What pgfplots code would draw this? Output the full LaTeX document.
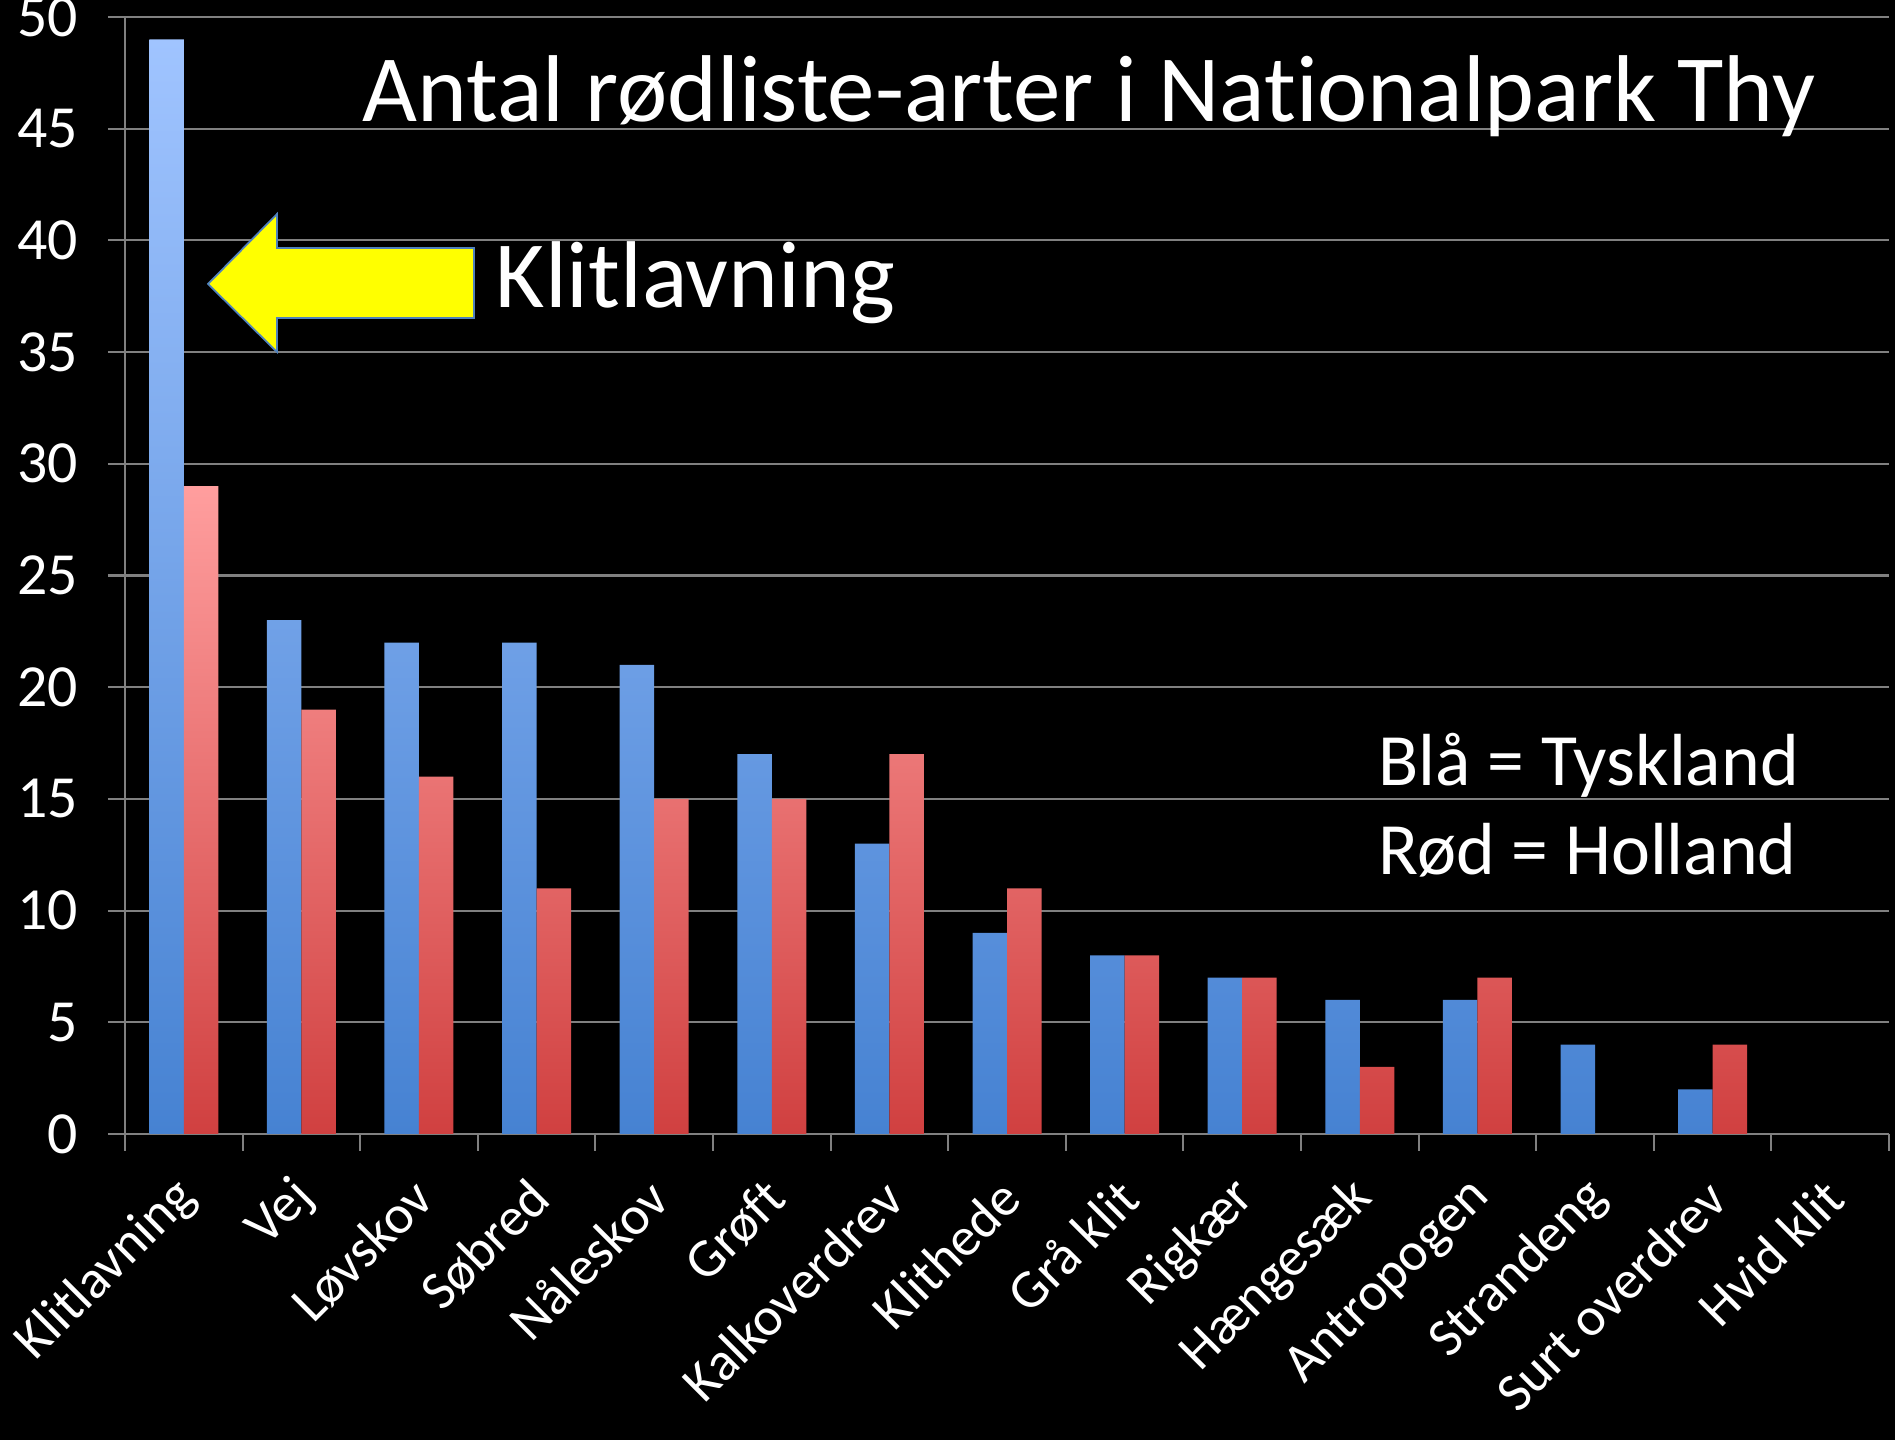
\documentclass[border=0pt]{standalone}
\usepackage{pgfplots}
\pgfplotsset{compat=1.18}
\usepackage{fontspec}
\setmainfont{Carlito}[Ligatures=NoCommon]
\definecolor{gridgray}{HTML}{808080}
\definecolor{bluetop}{HTML}{A0C4FF}
\definecolor{bluebot}{HTML}{4682D2}
\definecolor{redtop}{HTML}{FF9E9E}
\definecolor{redbot}{HTML}{D04040}
\definecolor{arrowyellow}{HTML}{FFFF00}
\definecolor{arrowblue}{HTML}{4F81BD}
\begin{document}
\begin{tikzpicture}
\useasboundingbox (0,0) rectangle (18.95,14.4);
\fill[black] (0,0) rectangle (18.95,14.4);
\begin{axis}[
  at={(1.25cm,3.06cm)}, anchor=south west,
  scale only axis, width=17.64cm, height=11.17cm,
  ybar, bar width=0.345cm,
  xmin=-0.5, xmax=14.5, ymin=0, ymax=50,
  axis x line*=bottom, axis y line*=left,
  axis line style={gridgray, line width=0.6pt, -},
  tick align=outside,
  major tick length=0.17cm,
  ytick={0,5,...,50},
  ymajorgrids, major grid style={gridgray, line width=0.6pt},
  ytick style={gridgray, line width=0.6pt},
  /pgf/number format/assume math mode=true,
  yticklabel style={font=\fontsize{17}{20}\selectfont, text=white, xshift=-0.18cm},
  xtick={0,...,14},
  xtick style={draw=none},
  xticklabels={Klitlavning, Vej, Løvskov, Søbred, Nåleskov, Grøft, Kalkoverdrev, Klithede, Grå klit, Rigkær, Hængesæk, Antropogen, Strandeng, Surt overdrev, Hvid klit},
  xticklabel style={font=\fontsize{15.5}{18}\selectfont, text=white, rotate=45, anchor=east, xshift=-0.12cm, yshift=-0.30cm},
  extra x ticks={-0.5,0.5,...,14.5},
  extra x tick labels={},
  extra x tick style={grid=none, xtick style={draw=gridgray, line width=0.6pt}},
]
\addplot[draw=none, top color=bluetop, bottom color=bluebot, bar shift=-0.1725cm] coordinates {
(0,49) (1,23) (2,22) (3,22) (4,21) (5,17) (6,13) (7,9) (8,8) (9,7) (10,6) (11,6) (12,4) (13,2)};
\addplot[draw=none, top color=redtop, bottom color=redbot, bar shift=0.1725cm] coordinates {
(0,29) (1,19) (2,16) (3,11) (4,15) (5,15) (6,17) (7,11) (8,8) (9,7) (10,3) (11,7) (13,4)};
\end{axis}
\filldraw[fill=arrowyellow, draw=arrowblue, line width=0.5pt]
  (2.08,11.56) -- (2.77,12.26) -- (2.77,11.92) -- (4.74,11.92) -- (4.74,11.22) -- (2.77,11.22) -- (2.77,10.88) -- cycle;
\node[anchor=base west, inner sep=0, text=white, font=\fontsize{27}{32}\selectfont] at (3.62,13.18) {Antal rødliste-arter i Nationalpark Thy};
\node[anchor=base west, inner sep=0, text=white, font=\fontsize{27}{32}\selectfont] at (4.95,11.32) {Klitlavning};
\node[anchor=base west, inner sep=0, text=white, font=\fontsize{21}{25}\selectfont] at (13.78,6.545) {Blå = Tyskland};
\node[anchor=base west, inner sep=0, text=white, font=\fontsize{21}{25}\selectfont] at (13.78,5.65) {Rød = Holland};
\end{tikzpicture}
\end{document}
